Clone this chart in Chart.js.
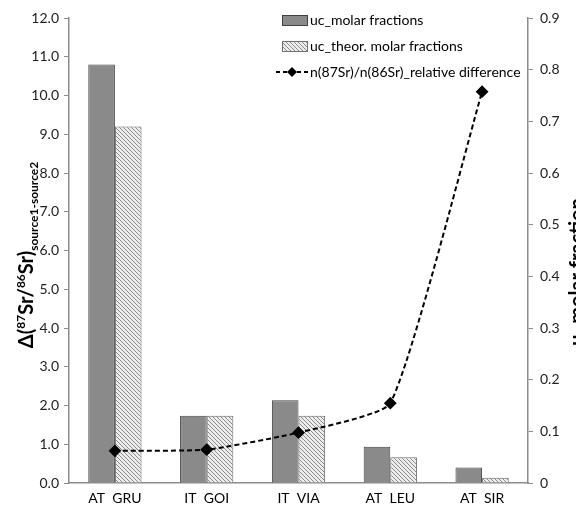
<!DOCTYPE html>
<html>
<head>
<meta charset="utf-8">
<script src="https://cdn.jsdelivr.net/npm/chart.js@4"></script>
<style>
  html, body { margin: 0; padding: 0; background: #fff; }
  canvas { display: block; }
</style>
</head>
<body>
<canvas id="chart" width="576" height="506"></canvas>
<script>
// categories and values
const sites = ['AT  GRU', 'IT  GOI', 'IT  VIA', 'AT  LEU', 'AT  SIR'];
const ucMolar = [0.81, 0.13, 0.16, 0.07, 0.03];   // right axis
const ucTheor = [0.69, 0.13, 0.13, 0.05, 0.01];   // right axis
const relDiff = [0.83, 0.86, 1.30, 2.06, 10.10];  // left axis

const legendLabels = ['uc_molar fractions', 'uc_theor. molar fractions', 'n(87Sr)/n(86Sr)_relative difference'];

const FONT = 'Lato, "DejaVu Sans", sans-serif';

// diagonal hatch for the theoretical bars
function makeHatch() {
  const c = document.createElement('canvas');
  c.width = 4; c.height = 4;
  const g = c.getContext('2d');
  g.fillStyle = '#ececec';
  g.fillRect(0, 0, 4, 4);
  g.strokeStyle = '#8c8c8c';
  g.lineWidth = 1;
  g.beginPath();
  g.moveTo(-1, -1); g.lineTo(5, 5);
  g.moveTo(-1, 3); g.lineTo(1, 5);
  g.moveTo(3, -1); g.lineTo(5, 1);
  g.stroke();
  return g.createPattern(c, 'repeat');
}
const hatch = makeHatch();

// draws text pieces along a rotated baseline; pieces = [text, size, dy]
function richText(ctx, pieces, cx, cy, angle) {
  ctx.save();
  ctx.translate(cx, cy);
  ctx.rotate(angle);
  let total = 0;
  pieces.forEach(p => {
    ctx.font = 'bold ' + p[1] + 'px ' + FONT;
    total += ctx.measureText(p[0]).width;
  });
  let x = -total / 2;
  ctx.fillStyle = '#000';
  ctx.textBaseline = 'alphabetic';
  ctx.textAlign = 'left';
  pieces.forEach(p => {
    ctx.font = 'bold ' + p[1] + 'px ' + FONT;
    ctx.fillText(p[0], x, p[2]);
    x += ctx.measureText(p[0]).width;
  });
  ctx.restore();
}

const extras = {
  id: 'extras',
  afterDraw(chart) {
    const ctx = chart.ctx;
    // axis titles
    richText(ctx, [['Δ(', 20, 0], ['87', 12, -8], ['Sr/', 20, 0], ['86', 12, -8], ['Sr)', 20, 0], ['source1-source2', 12, 5]],
      33, 255, -Math.PI / 2);
    richText(ctx, [['u', 20, 0], ['c', 12, 5], [' molar fraction', 20, 0]], 584, 272, -Math.PI / 2);

    // legend
    ctx.save();
    ctx.font = '14px ' + FONT;
    ctx.textBaseline = 'middle';
    ctx.fillStyle = '#000';
    const lx = 282, ys = [20, 46, 72];
    ctx.fillStyle = '#8a8a8a';
    ctx.fillRect(lx, ys[0] - 5, 25, 10);
    ctx.strokeStyle = '#404040';
    ctx.lineWidth = 1;
    ctx.strokeRect(lx + 0.5, ys[0] - 4.5, 25, 10);
    ctx.fillStyle = hatch;
    ctx.fillRect(lx, ys[1] - 5, 25, 10);
    ctx.strokeStyle = '#707070';
    ctx.strokeRect(lx + 0.5, ys[1] - 4.5, 25, 10);
    ctx.strokeStyle = '#000';
    ctx.lineWidth = 2;
    ctx.setLineDash([4, 3]);
    ctx.beginPath();
    ctx.moveTo(276, ys[2]); ctx.lineTo(308, ys[2]);
    ctx.stroke();
    ctx.setLineDash([]);
    ctx.fillStyle = '#000';
    ctx.beginPath();
    ctx.moveTo(292, ys[2] - 5); ctx.lineTo(297, ys[2]); ctx.lineTo(292, ys[2] + 5); ctx.lineTo(287, ys[2]);
    ctx.closePath();
    ctx.fill();
    legendLabels.forEach((t, i) => ctx.fillText(t, 310, ys[i]));
    ctx.restore();
  }
};

new Chart(document.getElementById('chart'), {
  data: {
    labels: sites,
    datasets: [
      {
        type: 'line',
        label: legendLabels[2],
        data: relDiff,
        yAxisID: 'y',
        borderColor: '#000',
        borderWidth: 2,
        borderDash: [5, 3],
        pointStyle: 'rectRot',
        pointRadius: 5,
        pointBackgroundColor: '#000',
        pointBorderColor: '#000',
        tension: 0.15,
        order: 0
      },
      {
        type: 'bar',
        label: legendLabels[0],
        data: ucMolar,
        yAxisID: 'y2',
        backgroundColor: '#8a8a8a',
        borderColor: '#404040',
        borderWidth: 1,
        barPercentage: 1,
        categoryPercentage: 0.58,
        order: 1
      },
      {
        type: 'bar',
        label: legendLabels[1],
        data: ucTheor,
        yAxisID: 'y2',
        backgroundColor: hatch,
        borderColor: '#6a6a6a',
        borderWidth: 1,
        barPercentage: 1,
        categoryPercentage: 0.58,
        order: 1
      }
    ]
  },
  options: {
    responsive: false,
    devicePixelRatio: 1,
    animation: false,
    layout: { padding: { top: 18, left: 0, right: 0, bottom: 0 } },
    plugins: { legend: { display: false }, tooltip: { enabled: false } },
    scales: {
      x: {
        grid: { drawOnChartArea: false, drawTicks: false },
        border: { color: '#8c8c8c', width: 1.5 },
        ticks: { color: '#000', font: { family: FONT, size: 14 }, padding: 7 },
        afterFit(s) { s.height = 23; }
      },
      y: {
        position: 'left',
        min: 0, max: 12,
        grid: { drawOnChartArea: false, tickLength: 5, color: '#8c8c8c' },
        border: { color: '#8c8c8c', width: 1.5 },
        ticks: { stepSize: 1, color: '#222', font: { family: FONT, size: 14 }, padding: 5,
          callback: v => v.toFixed(1) },
        afterFit(s) { s.width = 69; }
      },
      y2: {
        position: 'right',
        min: 0, max: 0.9,
        grid: { drawOnChartArea: false, tickLength: 5, color: '#8c8c8c' },
        border: { color: '#8c8c8c', width: 1.5 },
        ticks: { stepSize: 0.1, color: '#222', font: { family: FONT, size: 14 }, padding: 7,
          callback: v => (Math.abs(v) < 1e-9 ? '0' : v.toFixed(1)) },
        afterFit(s) { s.width = 48; }
      }
    }
  },
  plugins: [extras]
});
</script>
</body>
</html>
